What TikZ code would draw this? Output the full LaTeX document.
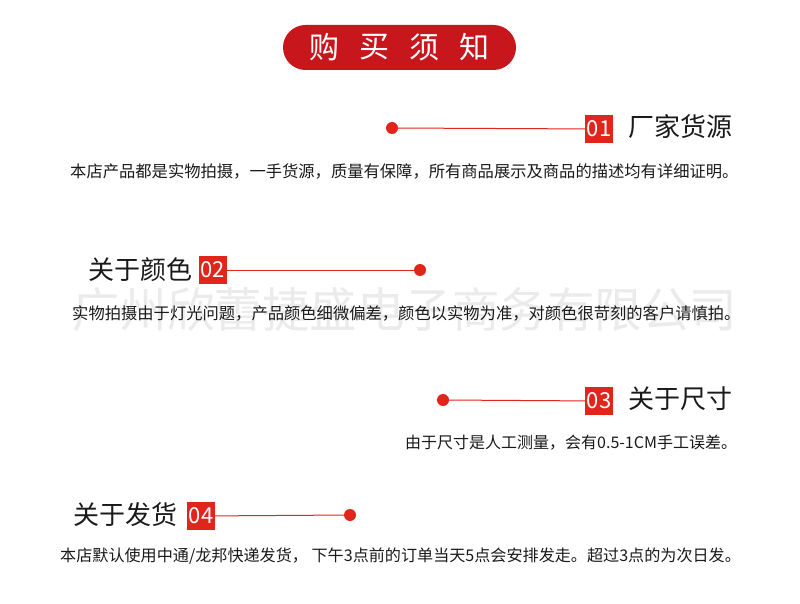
\documentclass[tikz,border=0pt]{standalone}
\usepackage{fontspec}
\setmainfont{Noto Sans CJK SC}
\usepackage{tikz}
\definecolor{mred}{HTML}{E1251B}
\definecolor{pred}{HTML}{C8161D}
\definecolor{ink}{HTML}{1A1A1A}
\definecolor{wm}{HTML}{EBEBEB}
\tikzset{
	dotmark/.style={circle,fill=mred,inner sep=0pt,minimum size=12pt},
	numbox/.style={fill=mred,text=white,inner sep=0pt,minimum size=28pt,font=\fontsize{22}{22}\selectfont},
	headtext/.style={text=ink,inner sep=0pt,font=\fontsize{26}{26}\selectfont},
	bodytext/.style={text=ink,inner sep=0pt,anchor=west,font=\fontsize{16.3}{16}\selectfont},
	redline/.style={mred,line width=1pt},
}

\begin{document}
\begin{tikzpicture}[x=1pt,y=-1pt]
	\useasboundingbox [fill=white] (0,0) rectangle (800,604);

	% title
	\node (pill) [fill=pred,rounded corners=22.5pt,minimum width=233pt,minimum height=45pt] at (399.5,47.5) {};
	\foreach \c [count=\i] in {购,买,须,知}
		\node (t\i) [text=white,inner sep=0pt,font=\fontsize{30}{30}\selectfont] at (274+50*\i,47.5) {\c};

	% watermark
	\node (wmark) [text=wm,inner sep=0pt,anchor=west,font=\fontsize{47.5}{47.5}\selectfont] at (72,310) {广州欣蕾捷盛电子商务有限公司};

	% 01
	\node (d1) [dotmark] at (392,128) {};
	\node (n1) [numbox] at (599,129) {01};
	\node (h1) [headtext,anchor=west] at (628,127) {厂家货源};
	\draw [redline] (d1) -- (n1);
	\node (b1) [bodytext] at (70,171) {本店产品都是实物拍摄，一手货源，质量有保障，所有商品展示及商品的描述均有详细证明。};

	% 02
	\node (h2) [headtext,anchor=east] at (193,270) {关于颜色};
	\node (n2) [numbox] at (212.5,270) {02};
	\node (d2) [dotmark] at (420,270) {};
	\draw [redline] (n2) -- (d2);
	\node (b2) [bodytext] at (72,313) {实物拍摄由于灯光问题，产品颜色细微偏差，颜色以实物为准，对颜色很苛刻的客户请慎拍。};

	% 03
	\node (d3) [dotmark] at (443,400) {};
	\node (n3) [numbox] at (599,401) {03};
	\node (h3) [headtext,anchor=west] at (628,399) {关于尺寸};
	\draw [redline] (d3) -- (n3);
	\node (b3) [bodytext,anchor=west,font=\fontsize{16}{16}\selectfont] at (405,443) {由于尺寸是人工测量，会有0.5-1CM手工误差。};

	% 04
	\node (h4) [headtext,anchor=east] at (178,515) {关于发货};
	\node (n4) [numbox] at (201,516) {04};
	\node (d4) [dotmark] at (350,515) {};
	\draw [redline] (n4) -- (d4);
	\node (b4) [bodytext,font=\fontsize{16.1}{16}\selectfont] at (60,556) {本店默认使用中通/龙邦快递发货，\ 下午3点前的订单当天5点会安排发走。超过3点的为次日发。};
\end{tikzpicture}
\end{document}
